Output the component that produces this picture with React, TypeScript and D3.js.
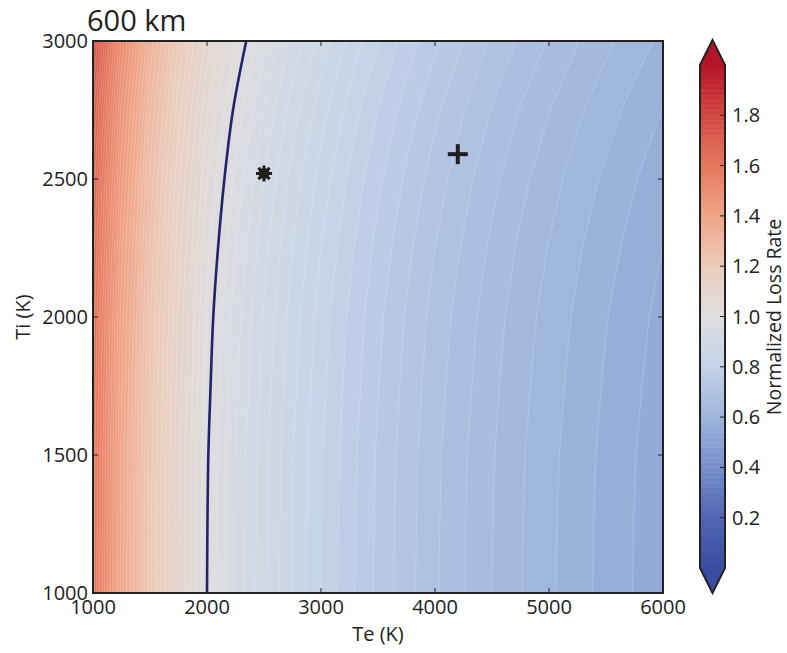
import React from 'react';
import * as d3 from 'd3';

// Electron temperature grid (K)
const teGrid = [1000, 1250, 1500, 1750, 2000, 2250, 2500, 2750, 3000, 3250, 3500, 3750, 4000, 4250, 4500, 4750, 5000, 5250, 5500, 5750, 6000];
// Ion temperature grid (K)
const tiGrid = [1000, 1250, 1500, 1750, 2000, 2250, 2500, 2750, 3000];
// Normalized loss rate along Te at Ti = 1000 K
const lossAtTi1000 = [1.61, 1.39, 1.225, 1.1, 1.0, 0.937, 0.885, 0.839, 0.8, 0.766, 0.735, 0.708, 0.683, 0.661, 0.64, 0.621, 0.604, 0.588, 0.573, 0.559, 0.546];
// Relative change of the loss rate with Ti
const tiFactor = [1.0, 1.001, 1.003, 1.008, 1.014, 1.025, 1.04, 1.061, 1.09];

const xTicks = [1000, 2000, 3000, 4000, 5000, 6000];
const yTicks = [1000, 1500, 2000, 2500, 3000];
const cbTicks = [0.2, 0.4, 0.6, 0.8, 1.0, 1.2, 1.4, 1.6, 1.8];
const levels = d3.range(101).map((i) => +(i * 0.02).toFixed(2));

const cmapStops = [0.0, 0.2, 0.4, 0.6, 0.8, 1.0, 1.2, 1.4, 1.6, 1.8, 2.0];
const cmapColors = ['#3a4ca0', '#5066b4', '#768fca', '#9db4dc', '#c5d3e8', '#dedee0', '#ecccbc', '#f0a587', '#e6785f', '#d24641', '#b41428'];

const mkt = { title: '600 km', xLabel: 'Te (K)', yLabel: 'Ti (K)', cbLabel: 'Normalized Loss Rate' };
const markerStar = [2500, 2520];
const markerPlus = [4200, 2590];

const W = 787;
const H = 653;
const L = 93, R = 663, T = 41, B = 593;
const FONT = '"Open Sans", sans-serif';

export default function App() {
  const x = d3.scaleLinear().domain([1000, 6000]).range([L, R]);
  const y = d3.scaleLinear().domain([1000, 3000]).range([B, T]);
  const color = d3.scaleLinear<string>().domain(cmapStops).range(cmapColors).interpolate(d3.interpolateRgb).clamp(true);

  const nx = teGrid.length, ny = tiGrid.length;
  const values: number[] = [];
  for (let j = 0; j < ny; j++) for (let i = 0; i < nx; i++) values.push(lossAtTi1000[i] * tiFactor[j]);

  const g2v = (g: number, grid: number[]) => {
    const n = grid.length;
    const t = g - 0.5;
    if (t <= 0) return grid[0];
    if (t >= n - 1) return grid[n - 1];
    const i = Math.floor(t);
    const f = t - i;
    return grid[i] + f * (grid[i + 1] - grid[i]);
  };

  const contours = d3.contours().size([nx, ny]).thresholds(levels)(values);
  const toPath = (mp: any) => {
    let s = '';
    for (const poly of mp.coordinates) {
      for (const ring of poly) {
        ring.forEach((p: number[], k: number) => {
          const px = x(g2v(p[0], teGrid));
          const py = y(g2v(p[1], tiGrid));
          s += (k === 0 ? 'M' : 'L') + px.toFixed(2) + ',' + py.toFixed(2);
        });
        s += 'Z';
      }
    }
    return s;
  };

  // contour line at 1.0
  const linePts: [number, number][] = [];
  for (let j = 0; j < ny; j++) {
    for (let i = 0; i < nx - 1; i++) {
      const a = values[j * nx + i], b = values[j * nx + i + 1];
      if ((a - 1) * (b - 1) <= 0 && a !== b) {
        const f = (a - 1) / (a - b);
        linePts.push([teGrid[i] + f * (teGrid[i + 1] - teGrid[i]), tiGrid[j]]);
        break;
      }
    }
  }
  const line = d3.line<[number, number]>().x((d) => x(d[0])).y((d) => y(d[1])).curve(d3.curveCatmullRom);

  const yc = d3.scaleLinear().domain([0, 2]).range([568, 65]);
  const cbL = 700, cbR = 725, cbM = 712.5;

  const sx = x(markerStar[0]), sy = y(markerStar[1]);
  const px = x(markerPlus[0]), py = y(markerPlus[1]);

  return (
    <svg width={W} height={H} style={{ position: 'absolute', left: 0, top: 0, background: '#fff' }} fontFamily={FONT}>
      <defs>
        <clipPath id="plotclip">
          <rect x={L} y={T} width={R - L} height={B - T} />
        </clipPath>
      </defs>
      <g clipPath="url(#plotclip)">
        {contours.map((c, k) =>
          c.coordinates.length ? (
            <path key={k} d={toPath(c)} fill={color(c.value + 0.01)} stroke="rgba(255,255,255,0.35)" strokeWidth={0.6} />
          ) : null
        )}
        <path d={line(linePts) || ''} fill="none" stroke="#23236e" strokeWidth={2.6} />
      </g>
      {/* markers */}
      <g stroke="#1e1e1e" strokeWidth={3} strokeLinecap="butt">
        {[0, 45, 90, 135].map((a) => (
          <line key={a} x1={sx - 8 * Math.cos((a * Math.PI) / 180)} y1={sy - 8 * Math.sin((a * Math.PI) / 180)} x2={sx + 8 * Math.cos((a * Math.PI) / 180)} y2={sy + 8 * Math.sin((a * Math.PI) / 180)} />
        ))}
        <circle cx={sx} cy={sy} r={5.5} fill="#1e1e1e" stroke="none" />
        <line x1={px - 10} y1={py} x2={px + 10} y2={py} strokeWidth={4} />
        <line x1={px} y1={py - 10} x2={px} y2={py + 10} strokeWidth={4} />
      </g>
      {/* ticks */}
      <g stroke="#222" strokeWidth={1}>
        {xTicks.map((t) => (
          <g key={'xt' + t}>
            <line x1={x(t)} x2={x(t)} y1={B} y2={B - 5} />
            <line x1={x(t)} x2={x(t)} y1={T} y2={T + 5} />
          </g>
        ))}
        {yTicks.map((t) => (
          <g key={'yt' + t}>
            <line x1={L} x2={L + 5} y1={y(t)} y2={y(t)} />
            <line x1={R} x2={R - 5} y1={y(t)} y2={y(t)} />
          </g>
        ))}
      </g>
      <rect x={L} y={T} width={R - L} height={B - T} fill="none" stroke="#222" strokeWidth={2} />
      {/* tick labels */}
      <g fontSize={20} fill="#222">
        {xTicks.map((t) => (
          <text key={'xl' + t} x={x(t)} y={B + 21} textAnchor="middle">{t}</text>
        ))}
        {yTicks.map((t) => (
          <text key={'yl' + t} x={L - 5} y={y(t) + 7} textAnchor="end">{t}</text>
        ))}
        <text x={(L + R) / 2} y={641} textAnchor="middle">{mkt.xLabel}</text>
        <text transform={`translate(30,${(T + B) / 2}) rotate(-90)`} textAnchor="middle">{mkt.yLabel}</text>
      </g>
      <text x={87} y={31} fontSize={29} fill="#222">{mkt.title}</text>
      {/* colorbar */}
      <g>
        {levels.slice(0, 100).map((l) => (
          <rect key={'cb' + l} x={cbL} y={yc(l + 0.02)} width={cbR - cbL} height={yc(l) - yc(l + 0.02) + 0.4} fill={color(l + 0.01)} />
        ))}
        <path d={`M${cbL},${yc(2)}L${cbM},40L${cbR},${yc(2)}Z`} fill={color(2)} />
        <path d={`M${cbL},${yc(0)}L${cbM},593L${cbR},${yc(0)}Z`} fill={color(0)} />
        <path d={`M${cbL},${yc(2)}L${cbM},40L${cbR},${yc(2)}L${cbR},${yc(0)}L${cbM},593L${cbL},${yc(0)}Z`} fill="none" stroke="#222" strokeWidth={2} />
        {cbTicks.map((t) => (
          <g key={'cbt' + t}>
            <line x1={cbR - 5} x2={cbR} y1={yc(t)} y2={yc(t)} stroke="#222" strokeWidth={1} />
            <text x={732} y={yc(t) + 7} fontSize={20} fill="#222">{t.toFixed(1)}</text>
          </g>
        ))}
        <text transform={`translate(781,${(T + B) / 2}) rotate(-90)`} textAnchor="middle" fontSize={19.5} fill="#222">{mkt.cbLabel}</text>
      </g>
    </svg>
  );
}
